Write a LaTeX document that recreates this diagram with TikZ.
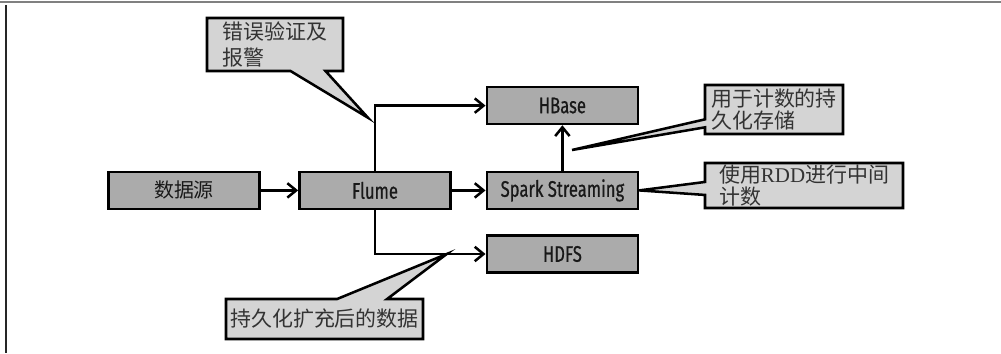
\documentclass[tikz,border=0pt]{standalone}
\usepackage{fontspec}
\setmainfont{Liberation Serif}
\newfontfamily\cjk{Noto Sans CJK SC}
\newfontfamily\boxfont[FakeStretch=0.74, FakeBold=0.6]{Fira Sans}
\usetikzlibrary{shapes.callouts, positioning, arrows.meta, calc}
\definecolor{boxgray}{gray}{0.67}
\definecolor{notegray}{gray}{0.83}

\begin{document}
\begin{tikzpicture}[
  >=Straight Barb,
  pbox/.style={draw, line width=1.8pt, fill=boxgray,
    minimum width=3.78cm, minimum height=0.92cm, inner sep=0pt,
    text=black!90, font=\boxfont\fontsize{16}{18}\selectfont},
  note/.style={rectangle callout, draw, line width=1.8pt, fill=notegray,
    align=left, inner sep=0pt, text=black!80,
    font=\cjk\fontsize{14.9}{15.6}\selectfont},
  arr/.style={-{Straight Barb[length=2.2mm, width=3.6mm]}, line width=1.8pt},
]

\useasboundingbox (0,0) rectangle (25.025,-8.825);

%% ---- Frame ----
\draw[gray, line width=1.4pt] (0,-0.04) -- (25.025,-0.04);
\draw[black!85, line width=1.3pt] (0.15,-0.12) -- (0.15,-8.825);

%% ---- Main flow ----
\node[pbox, font=\cjk\fontsize{14.2}{16}\selectfont] (src) at (4.6,-4.76) {数据源};
\node[pbox] (flume) at (9.375,-4.76) {Flume};
\node[pbox] (spark) at (14.06,-4.76) {Spark Streaming};
\node[pbox] (hbase) at (14.06,-2.64) {HBase};
\node[pbox] (hdfs)  at (14.06,-6.35) {HDFS};

\draw[arr] (src.east) -- (flume.west);
\draw[arr] (flume.east) -- (spark.west);
\draw[arr] (flume.north) |- (hbase.west);
\draw[arr] (flume.south) |- (hdfs.west);
\draw[arr] (spark.north) -- (hbase.south);

%% ---- Callouts ----
\coordinate (tipErr)  at ($(flume.north)+(-0.175,1.325)$);
\coordinate (tipCnt)  at ($(spark.north)!0.5!(hbase.south)+(0.24,-0.05)$);
\coordinate (tipRdd)  at (spark.east);
\coordinate (tipKeep) at ($(hdfs.west)+(-0.97,0)$);

\node[note, minimum width=3.4cm, minimum height=1.325cm,
  callout absolute pointer={(tipErr)}, callout pointer width=0.875cm,
  font=\cjk\fontsize{14.9}{18.4}\selectfont] (err) at (6.875,-1.1125)
  {错误验证及\\报警};
\node[note, minimum width=3.45cm, minimum height=1.225cm,
  callout absolute pointer={(tipCnt)}, callout pointer width=0.2cm]
  (cnt) at (19.35,-2.7375) {用于计数的持\\久化存储};
\node[note, minimum width=4.95cm, minimum height=1.125cm,
  callout absolute pointer={(tipRdd)}, callout pointer width=0.325cm]
  (rdd) at (20.1,-4.6375) {使用{\rmfamily RDD}进行中间\\计数};
\node[note, minimum width=4.925cm, minimum height=1.0cm,
  callout absolute pointer={(tipKeep)}, callout pointer width=1.25cm]
  (keep) at (8.1125,-7.975) {持久化扩充后的数据};

\end{tikzpicture}
\end{document}
